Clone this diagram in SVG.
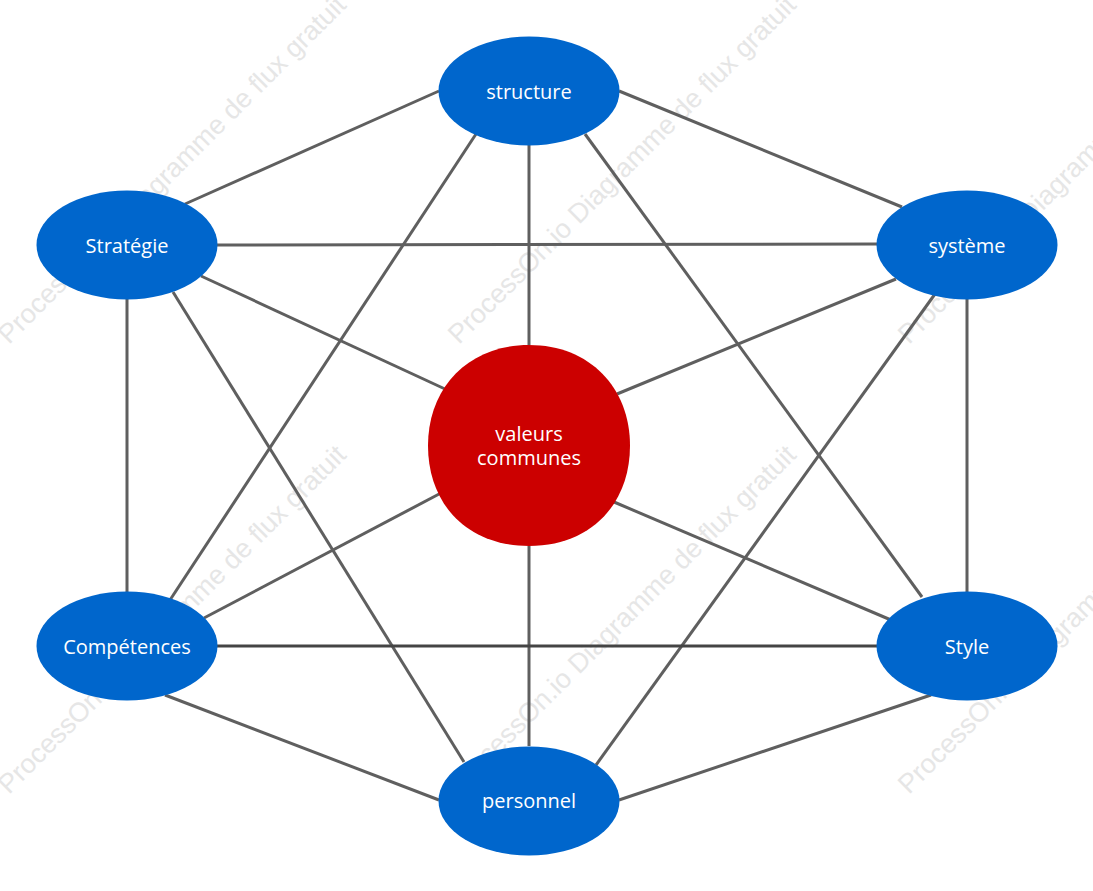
<svg xmlns="http://www.w3.org/2000/svg" width="1093" height="891" viewBox="0 0 1093 891">
<style>
.wm{font-family:"Liberation Sans",Arial,sans-serif;font-size:27px;fill:#e6e6e6}
.c line{stroke:#5f5f5f;stroke-width:3;fill:none}
.n ellipse{fill:#0066cc}
.n path{fill:#cc0000}
.n text{font-family:"Open Sans","Noto Sans",sans-serif;font-size:20px;fill:#fff;text-anchor:middle}
</style>
<rect width="1093" height="891" fill="#fff"/>
<g id="watermarks">
<text class="wm" transform="translate(9 345) rotate(-45)">ProcessOn.io Diagramme de flux gratuit</text>
<text class="wm" transform="translate(459 345) rotate(-45)">ProcessOn.io Diagramme de flux gratuit</text>
<text class="wm" transform="translate(909 345) rotate(-45)">ProcessOn.io Diagramme de flux gratuit</text>
<text class="wm" transform="translate(9 795) rotate(-45)">ProcessOn.io Diagramme de flux gratuit</text>
<text class="wm" transform="translate(459 795) rotate(-45)">ProcessOn.io Diagramme de flux gratuit</text>
<text class="wm" transform="translate(909 795) rotate(-45)">ProcessOn.io Diagramme de flux gratuit</text>
</g>
<g id="connectors" class="c">
<line x1="439" y1="91" x2="185" y2="204"/>
<line x1="619" y1="91" x2="902" y2="207"/>
<line x1="529" y1="145" x2="529" y2="345"/>
<line x1="476" y1="134" x2="170" y2="600"/>
<line x1="585" y1="134" x2="922" y2="597"/>
<line x1="217" y1="245" x2="877" y2="244"/>
<line x1="127" y1="299" x2="127" y2="592"/>
<line x1="173" y1="292" x2="464" y2="762"/>
<line x1="201" y1="276" x2="445" y2="389"/>
<line x1="967" y1="299" x2="967" y2="592"/>
<line x1="935" y1="294" x2="596" y2="765"/>
<line x1="896" y1="279" x2="617" y2="394"/>
<line x1="441" y1="493" x2="204" y2="618"/>
<line x1="614" y1="502" x2="891" y2="620"/>
<line x1="529" y1="546" x2="529" y2="746"/>
<line x1="217" y1="646" x2="877" y2="646" style="stroke:#444"/>
<line x1="165" y1="695" x2="439" y2="800"/>
<line x1="619" y1="800" x2="931" y2="695"/>
</g>
<g id="node-structure" class="n"><ellipse cx="529" cy="91" rx="90.500" ry="54.500"/><text x="529" y="99">structure</text></g>
<g id="node-strategie" class="n"><ellipse cx="127" cy="245" rx="90.500" ry="54.500"/><text x="127" y="253">Stratégie</text></g>
<g id="node-systeme" class="n"><ellipse cx="967" cy="245" rx="90.500" ry="54.500"/><text x="967" y="253">système</text></g>
<g id="node-competences" class="n"><ellipse cx="127" cy="646" rx="90.500" ry="54.500"/><text x="127" y="654">Compétences</text></g>
<g id="node-style" class="n"><ellipse cx="967" cy="646" rx="90.500" ry="54.500"/><text x="967" y="654">Style</text></g>
<g id="node-personnel" class="n"><ellipse cx="529" cy="801" rx="90.500" ry="54.500"/><text x="529" y="808">personnel</text></g>
<g id="node-valeurs" class="n"><path d="M529 345C590 345 630 388 630 445.500C630 505 590 546 529 546C468 546 428 505 428 445.500C428 388 468 345 529 345Z"/><text x="529" y="441">valeurs</text><text x="529" y="465">communes</text></g>
</svg>
